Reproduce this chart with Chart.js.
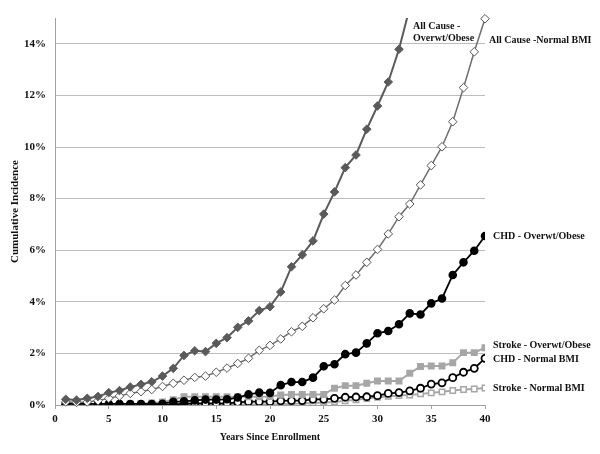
<!DOCTYPE html>
<html>
<head>
<meta charset="utf-8">
<script src="https://cdn.jsdelivr.net/npm/chart.js@4/dist/chart.umd.min.js"></script>
<style>
  html, body { margin: 0; padding: 0; background: #fff; }
  #wrap { width: 600px; height: 454px; }
</style>
</head>
<body>
<div id="wrap"><canvas id="chart"></canvas></div>
<script>
// years since enrollment
const years = [];
for (let i = 1; i <= 40; i++) years.push(i);

// cumulative incidence (%)
const allCauseOver = [0.22, 0.19, 0.26, 0.33, 0.48, 0.56, 0.70, 0.80, 0.90, 1.12,
  1.42, 1.92, 2.10, 2.07, 2.39, 2.61, 3.01, 3.26, 3.66, 3.81,
  4.38, 5.36, 5.82, 6.36, 7.40, 8.26, 9.20, 9.69, 10.69, 11.59,
  12.52, 13.79, 15.4, null, null, null, null, null, null, null];
const allCauseNormal = [0.12, 0.10, 0.12, 0.17, 0.26, 0.35, 0.45, 0.52, 0.60, 0.72,
  0.84, 0.96, 1.07, 1.12, 1.27, 1.43, 1.61, 1.81, 2.12, 2.31,
  2.56, 2.84, 3.05, 3.38, 3.73, 4.07, 4.63, 5.04, 5.53, 6.03,
  6.63, 7.30, 7.79, 8.53, 9.28, 10.01, 10.98, 12.30, 13.69, 14.97];
const chdOver = [0.04, 0.04, 0.04, 0.04, 0.04, 0.04, 0.04, 0.04, 0.04, 0.05,
  0.12, 0.14, 0.18, 0.21, 0.21, 0.22, 0.29, 0.41, 0.48, 0.47,
  0.77, 0.89, 0.89, 1.06, 1.50, 1.58, 1.97, 2.03, 2.39, 2.78,
  2.87, 3.13, 3.55, 3.51, 3.94, 4.13, 5.04, 5.53, 5.98, 6.55];
const strokeOver = [0.02, 0.02, 0.02, 0.02, 0.03, 0.03, 0.04, 0.05, 0.08, 0.12,
  0.20, 0.32, 0.32, 0.32, 0.32, 0.32, 0.32, 0.32, 0.32, 0.33,
  0.39, 0.41, 0.41, 0.41, 0.41, 0.65, 0.75, 0.75, 0.84, 0.93,
  0.93, 0.93, 1.23, 1.49, 1.51, 1.51, 1.64, 2.03, 2.03, 2.22];
const chdNormal = [0.01, 0.01, 0.01, 0.01, 0.01, 0.01, 0.01, 0.01, 0.01, 0.01,
  0.01, 0.05, 0.06, 0.06, 0.06, 0.06, 0.10, 0.13, 0.13, 0.13,
  0.16, 0.17, 0.17, 0.22, 0.22, 0.26, 0.30, 0.31, 0.32, 0.36,
  0.45, 0.48, 0.55, 0.65, 0.81, 0.86, 1.06, 1.27, 1.42, 1.81];
const strokeNormal = [0.0, 0.0, 0.0, 0.0, 0.0, 0.0, 0.0, 0.0, 0.0, 0.0,
  0.02, 0.02, 0.02, 0.02, 0.02, 0.02, 0.02, 0.02, 0.02, 0.02,
  0.04, 0.05, 0.06, 0.08, 0.10, 0.12, 0.16, 0.20, 0.25, 0.30,
  0.34, 0.37, 0.39, 0.43, 0.47, 0.51, 0.56, 0.60, 0.62, 0.66];

const xTicks = [0, 5, 10, 15, 20, 25, 30, 35, 40];
const yTicks = [0, 2, 4, 6, 8, 10, 12, 14];

const serif = "'Liberation Serif', 'Times New Roman', serif";

function pts(arr) {
  return years.map(function(x, i) { return { x: x, y: arr[i] }; });
}

// end labels next to the curves
const endLabels = [
  { text: ["All Cause -", "Overwt/Obese"], data: allCauseOver, at: 32, dx: 14, dy: -23 },
  { text: ["All Cause -Normal BMI"], data: allCauseNormal, at: 40, dx: 4, dy: 22 },
  { text: ["CHD - Overwt/Obese"], data: chdOver, at: 40, dx: 8, dy: 0 },
  { text: ["Stroke - Overwt/Obese"], data: strokeOver, at: 40, dx: 8, dy: -2 },
  { text: ["CHD - Normal BMI"], data: chdNormal, at: 40, dx: 8, dy: 1 },
  { text: ["Stroke - Normal BMI"], data: strokeNormal, at: 40, dx: 8, dy: 0 }
];

const labelPlugin = {
  id: 'endLabels',
  afterDraw: function(chart) {
    const c = chart.ctx;
    const xs = chart.scales.x, ys = chart.scales.y;
    c.save();
    c.font = "bold 10px " + serif;
    c.fillStyle = "#111";
    c.textAlign = "left";
    c.textBaseline = "middle";
    endLabels.forEach(function(l) {
      const px = xs.getPixelForValue(l.at) + l.dx;
      const py = ys.getPixelForValue(l.data[l.at - 1]) + l.dy;
      l.text.forEach(function(t, k) {
        c.fillText(t, px, py + k * 12);
      });
    });
    c.restore();
  }
};

const ctx = document.getElementById("chart").getContext("2d");
const chart = new Chart(ctx, {
  type: "line",
  data: {
    datasets: [
      {
        label: "All Cause - Overwt/Obese",
        data: pts(allCauseOver),
        borderColor: "#5a5a5a",
        backgroundColor: "#5a5a5a",
        borderWidth: 2,
        pointStyle: "rectRot",
        pointRadius: 4.3,
        pointBackgroundColor: "#5a5a5a",
        pointBorderColor: "#5a5a5a",
        pointBorderWidth: 1
      },
      {
        label: "All Cause - Normal BMI",
        data: pts(allCauseNormal),
        borderColor: "#6e6e6e",
        backgroundColor: "#fff",
        borderWidth: 1.5,
        pointStyle: "rectRot",
        pointRadius: 4.3,
        pointBackgroundColor: "#fff",
        pointBorderColor: "#555",
        pointBorderWidth: 1,
        clip: false
      },
      {
        label: "CHD - Overwt/Obese",
        data: pts(chdOver),
        borderColor: "#000",
        backgroundColor: "#000",
        borderWidth: 1.8,
        pointStyle: "circle",
        pointRadius: 3.4,
        pointBackgroundColor: "#000",
        pointBorderColor: "#000"
      },
      {
        label: "Stroke - Overwt/Obese",
        data: pts(strokeOver),
        borderColor: "#a6a6a6",
        backgroundColor: "#a6a6a6",
        borderWidth: 2,
        pointStyle: "rect",
        pointRadius: 3.5,
        pointBackgroundColor: "#a6a6a6",
        pointBorderColor: "#a6a6a6"
      },
      {
        label: "CHD - Normal BMI",
        data: pts(chdNormal),
        borderColor: "#000",
        backgroundColor: "#fff",
        borderWidth: 1.8,
        pointStyle: "circle",
        pointRadius: 3.5,
        pointBackgroundColor: "#fff",
        pointBorderColor: "#000",
        pointBorderWidth: 1.8
      },
      {
        label: "Stroke - Normal BMI",
        data: pts(strokeNormal),
        borderColor: "#a6a6a6",
        backgroundColor: "#fff",
        borderWidth: 2,
        pointStyle: "rect",
        pointRadius: 3.8,
        pointBackgroundColor: "#fff",
        pointBorderColor: "#a6a6a6",
        pointBorderWidth: 1.5
      }
    ]
  },
  options: {
    responsive: true,
    maintainAspectRatio: false,
    animation: false,
    layout: {
      padding: { left: 5, right: 115, top: 18, bottom: 7 }
    },
    plugins: {
      legend: { display: false },
      title: { display: false },
      tooltip: { enabled: false }
    },
    elements: {
      line: { tension: 0 }
    },
    scales: {
      x: {
        type: "linear",
        min: 0,
        max: 40,
        afterBuildTicks: function(s) {
          s.ticks = xTicks.map(function(v) { return { value: v }; });
        },
        afterFit: function(s) { s.height = 42; },
        grid: {
          drawOnChartArea: false,
          drawTicks: true,
          tickLength: 4,
          color: "#a0a0a0"
        },
        border: { color: "#a0a0a0" },
        ticks: {
          padding: 4,
          maxRotation: 0,
          color: "#111",
          font: { family: serif, size: 11, weight: "bold" }
        },
        title: {
          display: true,
          text: "Years Since Enrollment",
          color: "#111",
          padding: { top: 4, bottom: 4 },
          font: { family: serif, size: 10, weight: "bold" }
        }
      },
      y: {
        min: 0,
        max: 15,
        afterBuildTicks: function(s) {
          s.ticks = yTicks.map(function(v) { return { value: v }; });
        },
        afterFit: function(s) { s.width = 50; },
        grid: {
          drawTicks: false,
          color: "#bdbdbd",
          lineWidth: 1
        },
        border: { color: "#a0a0a0" },
        ticks: {
          padding: 9,
          color: "#111",
          font: { family: serif, size: 11, weight: "bold" },
          callback: function(v) { return v + "%"; }
        },
        title: {
          display: true,
          text: "Cumulative Incidence",
          color: "#111",
          padding: { top: 4, bottom: 4 },
          font: { family: serif, size: 11, weight: "bold" }
        }
      }
    }
  },
  plugins: [labelPlugin]
});
</script>
</body>
</html>
